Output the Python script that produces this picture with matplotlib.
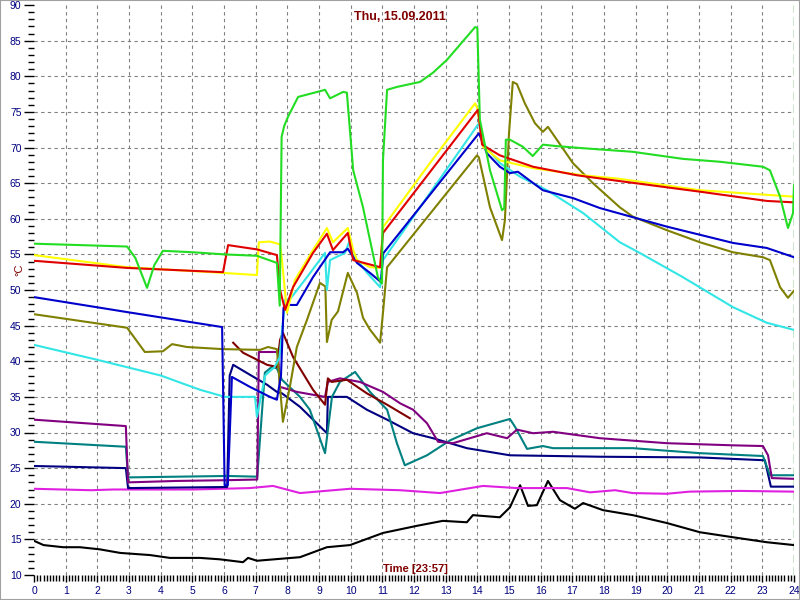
import matplotlib
matplotlib.use('Agg')
import matplotlib.pyplot as plt
from matplotlib.patches import Rectangle

# (hour, temperature) readings per sensor
green = [(0, 56.5), (2.94, 56.1), (3.2, 54.5), (3.57, 50.3), (3.8, 53.5), (4.07, 55.5), (5.0, 55.3),
         (6.0, 55.0), (7.04, 54.8), (7.67, 53.8), (7.76, 47.8), (7.82, 71.5), (7.9, 73.0), (8.02, 74.3),
         (8.34, 77.1), (9.03, 77.9), (9.19, 78.1), (9.35, 76.9), (9.76, 77.8), (9.88, 77.7),
         (10.08, 66.8), (10.39, 61.6), (10.86, 51.8), (10.99, 50.9), (11.02, 68.2), (11.15, 78.1),
         (11.46, 78.5), (12.19, 79.2), (12.6, 80.5), (13.04, 82.3), (13.93, 86.9), (14.0, 86.8),
         (14.08, 73.9), (14.4, 66.8), (14.78, 61.2), (14.85, 61.5), (14.9, 71.1), (15.03, 71.1),
         (15.44, 70.1), (15.75, 68.8), (16.07, 70.4), (16.5, 70.2), (17.34, 69.9), (18.9, 69.4),
         (20.5, 68.4), (21.66, 68.0), (23.02, 67.3), (23.24, 66.8), (23.56, 63.1), (23.81, 58.7),
         (23.97, 60.8), (24.0, 64.7)]
yellow = [(0, 54.9), (2.94, 53.2), (5.97, 52.4), (7.04, 52.1), (7.1, 56.7), (7.45, 56.8), (7.77, 56.4),
          (7.83, 54.2), (7.99, 46.8), (8.24, 51.4), (8.81, 55.6), (9.25, 58.7), (9.44, 56.7), (9.91, 58.7),
          (10.08, 55.6), (10.2, 54.2), (10.61, 53.2), (10.93, 53.1), (11.02, 58.8), (12.5, 67.8),
          (13.93, 76.2), (14.0, 75.5), (14.18, 70.1), (14.71, 68.2), (15.76, 67.1), (17.34, 66.1),
          (18.5, 65.6), (21.03, 64.0), (24, 63.1)]
red = [(0, 54.1), (2.94, 53.1), (5.97, 52.5), (6.13, 56.3), (7.04, 55.7), (7.67, 54.9), (7.77, 50.0),
       (7.93, 47.2), (8.18, 50.4), (8.81, 55.2), (9.25, 57.9), (9.44, 55.6), (9.91, 58.0), (10.08, 54.2),
       (10.93, 53.2), (11.02, 58.0), (14.02, 75.3), (14.15, 70.4), (14.71, 68.9), (15.76, 67.3),
       (17.15, 66.1), (18.3, 65.4), (21.03, 63.8), (23.14, 62.5), (24, 62.3)]
blue = [(0, 49.0), (2.94, 46.9), (5.94, 44.8), (6.02, 22.6), (6.12, 22.6), (6.25, 37.8), (6.82, 36.4),
        (7.45, 35.0), (7.67, 34.6), (7.8, 38.0), (7.88, 47.5), (7.93, 47.9), (8.3, 47.9), (8.81, 51.8),
        (9.35, 55.3), (9.76, 55.3), (9.91, 55.8), (10.2, 53.8), (10.61, 52.4), (10.96, 51.1),
        (11.02, 55.1), (14.05, 72.0), (14.3, 69.2), (14.71, 67.3), (15.03, 66.4), (15.28, 66.6),
        (16.07, 64.0), (17.02, 62.9), (17.87, 61.5), (19.98, 58.9), (22.08, 56.6), (23.14, 55.9),
        (24, 54.6)]
cyan = [(0, 42.3), (2.0, 40.2), (4.0, 38.0), (5.24, 36.0), (6.03, 35.0), (6.98, 35.0), (7.04, 32.2),
        (7.3, 38.0), (7.6, 39.2), (7.75, 40.5), (7.93, 48.6), (8.1, 48.8), (8.62, 51.8), (9.19, 55.2),
        (9.25, 50.0), (9.35, 54.2), (9.82, 55.2), (9.95, 56.7), (10.08, 54.9), (10.52, 52.4),
        (10.93, 50.4), (11.02, 54.2), (14.05, 73.4), (14.18, 70.6), (14.71, 67.8), (15.35, 65.9),
        (16.2, 64.0), (17.34, 60.8), (18.5, 56.7), (19.13, 55.2), (20.49, 51.8), (22.07, 47.6),
        (23.14, 45.4), (24, 44.4)]
olive = [(0, 46.6), (2.94, 44.7), (3.5, 41.3), (4.07, 41.4), (4.36, 42.4), (4.83, 42.0), (5.97, 41.7),
         (7.14, 41.6), (7.39, 42.0), (7.67, 41.7), (7.86, 31.5), (8.08, 36.4), (8.3, 42.0), (8.62, 45.8),
         (9.03, 51.0), (9.2, 50.5), (9.25, 42.7), (9.4, 45.8), (9.6, 47.0), (9.91, 52.4), (10.2, 49.6),
         (10.39, 46.1), (10.6, 44.5), (10.93, 42.6), (11.02, 46.8), (11.15, 53.2), (13.99, 68.9),
         (14.05, 68.6), (14.4, 61.6), (14.78, 57.0), (14.87, 59.8), (15.0, 72.0), (15.12, 79.2),
         (15.25, 78.9), (15.5, 76.2), (15.82, 73.4), (16.07, 72.2), (16.23, 72.9), (16.51, 71.1),
         (17.02, 67.8), (17.65, 65.0), (18.5, 61.6), (18.91, 60.3), (19.98, 58.4), (21.03, 56.7),
         (22.07, 55.3), (23.02, 54.6), (23.24, 54.2), (23.56, 50.4), (23.81, 48.9), (24, 49.9)]
maroon = [(6.29, 42.6), (6.6, 41.2), (7.36, 39.5), (7.67, 39.2), (7.77, 43.0), (7.86, 44.0), (8.18, 40.6),
          (8.81, 36.0), (9.19, 33.9), (9.28, 37.6), (9.4, 37.1), (9.88, 37.4), (10.51, 35.5),
          (11.15, 33.9), (11.87, 32.0)]
purple = [(0, 31.8), (2.9, 30.9), (2.97, 23.0), (4.5, 23.2), (6.0, 23.3), (7.05, 23.4), (7.1, 41.3),
          (7.7, 41.3), (7.77, 36.4), (8.3, 35.7), (9.19, 35.0), (9.28, 37.1), (9.66, 37.6), (10.29, 37.1),
          (11.02, 35.7), (11.56, 34.1), (11.97, 33.2), (12.41, 31.3), (12.76, 28.7), (13.23, 28.5),
          (14.3, 29.9), (14.94, 29.2), (15.25, 30.4), (15.76, 29.9), (16.39, 30.1), (17.87, 29.2),
          (19.98, 28.5), (22.07, 28.2), (23.02, 28.1), (23.18, 26.8), (23.3, 23.6), (24, 23.5)]
teal = [(0, 28.7), (2.9, 28.0), (2.97, 23.7), (6.1, 23.9), (7.05, 23.8), (7.29, 38.4), (7.51, 39.2),
        (7.67, 39.0), (7.83, 37.4), (8.4, 35.0), (8.71, 33.2), (9.19, 27.1), (9.41, 35.0), (9.66, 37.1),
        (10.14, 38.5), (10.61, 35.7), (11.15, 33.2), (11.46, 28.5), (11.71, 25.4), (12.41, 26.8),
        (13.14, 28.9), (13.99, 30.6), (15.03, 31.9), (15.19, 30.8), (15.57, 27.7), (16.07, 28.1),
        (16.39, 27.8), (18.91, 27.8), (21.03, 27.1), (23.02, 26.7), (23.24, 24.0), (24, 24.0)]
navy = [(0, 25.3), (2.9, 25.0), (2.97, 22.2), (6.1, 22.35), (6.18, 38.0), (6.29, 39.5), (6.82, 38.1),
        (7.36, 36.7), (7.67, 35.7), (7.83, 35.5), (8.4, 33.6), (9.25, 29.9), (9.28, 35.0), (9.88, 35.0),
        (10.51, 33.2), (11.15, 31.8), (11.97, 29.9), (12.6, 29.2), (13.67, 27.8), (15.03, 26.8),
        (17.87, 26.6), (21.03, 26.5), (23.08, 26.1), (23.27, 22.4), (24, 22.4)]
magenta = [(0, 22.1), (1.8, 21.9), (2.5, 22.0), (5.0, 22.0), (6.82, 22.2), (7.55, 22.5), (8.4, 21.5),
           (9.98, 22.1), (11.56, 21.9), (12.82, 21.5), (14.18, 22.5), (15.25, 22.2), (16.83, 22.2),
           (17.56, 21.6), (18.35, 21.9), (18.9, 21.5), (19.98, 21.4), (20.7, 21.7), (22.3, 21.8),
           (24, 21.7)]
black = [(0, 14.8), (0.3, 14.2), (0.92, 13.9), (1.45, 13.9), (2.08, 13.6), (2.72, 13.1), (3.66, 12.8),
         (4.29, 12.4), (5.24, 12.4), (5.87, 12.2), (6.6, 11.8), (6.76, 12.4), (7.04, 12.0), (8.4, 12.5),
         (9.25, 13.9), (9.98, 14.2), (11.02, 15.9), (12.09, 16.9), (12.91, 17.6), (13.67, 17.4),
         (13.86, 18.4), (14.71, 18.1), (15.03, 19.5), (15.35, 22.6), (15.6, 19.7), (15.88, 19.8),
         (16.23, 23.2), (16.61, 20.5), (17.08, 19.3), (17.34, 20.1), (17.97, 19.1), (18.91, 18.4),
         (19.98, 17.3), (21.03, 16.0), (22.07, 15.3), (23.14, 14.6), (24, 14.2)]

series = [
    (black, 'black'),
    (magenta, '#e020e0'),
    (navy, '#000080'),
    (teal, '#008080'),
    (purple, '#800080'),
    (maroon, '#800000'),
    (olive, '#808000'),
    (cyan, '#33e6e6'),
    (blue, '#0000cc'),
    (yellow, '#ffff00'),
    (red, '#e00000'),
    (green, '#22dd22'),
]

title = 'Thu, 15.09.2011'
time_label = 'Time [23:57]'
y_label = '°C'

fig = plt.figure(figsize=(8, 6), dpi=100)
ax = fig.add_axes([34 / 800, 25 / 600, 760 / 800, 570 / 600])

# dashed grid, only inner lines
for v in range(15, 90, 5):
    ax.axhline(v, color='#808080', lw=0.8, ls=(0, (3, 3)), zorder=1)
for h in range(1, 24):
    ax.axvline(h, color='#808080', lw=0.8, ls=(0, (3, 3)), zorder=1)
ax.axvline(24, color='#008000', lw=1.0, ls=(0, (6, 3)), zorder=1)

for data, color in series:
    xs = [p[0] for p in data]
    ys = [p[1] for p in data]
    ax.plot(xs, ys, color=color, linewidth=1.5, zorder=3)

ax.set_xlim(0, 24)
ax.set_ylim(10, 90)
for s in ax.spines.values():
    s.set_visible(False)

ax.set_xticks(range(0, 25))
ax.set_xticks([i / 10 for i in range(0, 241)], minor=True)
ax.set_yticks(range(10, 91, 5))
ax.set_yticks(range(10, 91), minor=True)
ax.tick_params(axis='x', which='major', length=5, width=1, pad=3, labelsize=7.5, labelcolor='#000080')
ax.tick_params(axis='x', which='minor', length=4, width=1)
ax.tick_params(axis='y', which='major', length=7, width=1, pad=2, labelsize=7.5, labelcolor='#000080')
ax.tick_params(axis='y', which='minor', length=4, width=1)
for lab in ax.get_xticklabels() + ax.get_yticklabels():
    lab.set_family('Liberation Sans')

fig.text(400 / 800, 1 - 17 / 600, title, color='#800000', fontsize=9, fontweight='bold',
         family='Liberation Sans', ha='center', va='center')
fig.text(415 / 800, 1 - 569 / 600, time_label, color='#800000', fontsize=8, fontweight='bold',
         family='Liberation Sans', ha='center', va='center')
fig.text(19 / 800, 1 - 270 / 600, y_label, color='#800000', fontsize=8, rotation=90,
         family='Liberation Sans', ha='center', va='center')

fig.patches.append(Rectangle((0, 0), 1, 1, transform=fig.transFigure, fill=False,
                             edgecolor='#a0a0a0', linewidth=1.5))

fig.savefig('out.png', dpi=100)
